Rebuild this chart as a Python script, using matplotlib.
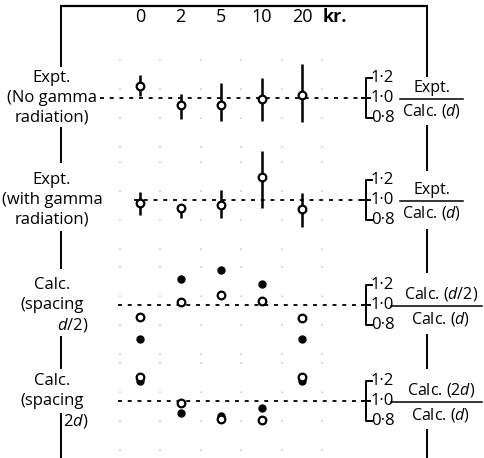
import numpy as np
import matplotlib
matplotlib.use('Agg')
import matplotlib.pyplot as plt
from matplotlib import transforms

plt.rcParams['font.family'] = ['Open Sans', 'DejaVu Sans']
plt.rcParams['mathtext.fontset'] = 'custom'
plt.rcParams['mathtext.rm'] = 'Open Sans'
plt.rcParams['mathtext.it'] = 'Open Sans:italic'

# dose categories (kr.), evenly spaced along x
doses = ['0', '2', '5', '10', '20']
xpos = np.arange(len(doses))

# Expt./Calc.(d), no gamma radiation
expt_nog = [1.12, 0.93, 0.93, 0.99, 1.03]
expt_nog_hi = [1.23, 1.04, 1.15, 1.20, 1.34]
expt_nog_lo = [1.02, 0.79, 0.77, 0.77, 0.76]

# Expt./Calc.(d), with gamma radiation
expt_g = [0.97, 0.92, 0.95, 1.23, 0.91]
expt_g_hi = [1.08, 0.95, 1.10, 1.49, 1.07]
expt_g_lo = [0.85, 0.82, 0.82, 0.92, 0.73]

# Calc.(d/2)/Calc.(d): open and filled points
half_open = [0.88, 1.03, 1.10, 1.04, 0.87]
half_fill = [0.66, 1.26, 1.35, 1.21, 0.66]

# Calc.(2d)/Calc.(d): open and filled points
dbl_open = [1.24, 0.98, 0.82, 0.81, 1.24]
dbl_fill = [1.20, 0.88, 0.85, 0.93, 1.20]

left_labels = [['Expt.', '(No gamma', 'radiation)'],
               ['Expt.', '(with gamma', 'radiation)'],
               ['Calc.', '(spacing', '$d$/2)'],
               ['Calc.', '(spacing', '2$d$)']]
right_num = ['Expt.', 'Expt.', 'Calc. ($d$/2)', 'Calc. (2$d$)']
right_den = ['Calc. ($d$)', 'Calc. ($d$)', 'Calc. ($d$)', 'Calc. ($d$)']
bracket_ticks = [0.8, 1.0, 1.2]
bracket_labels = ['0·8', '1·0', '1·2']

W, H = 484, 458
FS = 12
fig = plt.figure(figsize=(W / 100, H / 100), dpi=100, facecolor='w')

centers = [98, 200, 305, 401]   # pixel rows of the 1.0 level
panel_h = 100
x0_px, step_px = 140, 40.5
xlim = (-x0_px / step_px, 4 + (W - 302) / step_px)

axes = []
for c in centers:
    ax = fig.add_axes([0, (H - c - panel_h / 2) / H, 1, panel_h / H])
    ax.set_xlim(*xlim)
    ax.set_ylim(0.5, 1.5)
    ax.patch.set_alpha(0)
    for s in ax.spines.values():
        s.set_visible(False)
    ax.set_yticks([])
    ax.set_xticks([])
    # faint graph-paper dots between the dose columns
    ax.set_xticks(np.arange(-0.5, 5.5, 1), minor=True)
    ax.tick_params(which='both', length=0, labelbottom=False)
    ax.grid(which='minor', axis='x', color='#c4c4c4', lw=1.1,
            linestyle=(0, (1, 18)))
    axes.append(ax)

ax1, ax2, ax3, ax4 = axes

# dose labels across the top
ax1.xaxis.tick_top()
ax1.set_xticks(xpos)
ax1.set_xticklabels(doses, fontsize=FS + 1)
ax1.tick_params(axis='x', which='major', length=0, pad=16, labeltop=True)
top_tr = transforms.blended_transform_factory(ax1.transData, fig.transFigure)
ax1.text(4.8, 1 - 17 / H, 'kr.', transform=top_tr, fontsize=FS + 1,
         fontweight='bold', ha='center', va='center')

dash = (0, (2.2, 3.2))
line_start = [100, 134, 118, 118]

def errpoints(ax, y, hi, lo):
    y = np.array(y)
    ax.errorbar(xpos, y, yerr=[y - np.array(lo), np.array(hi) - y],
                fmt='o', ms=5.5, mfc='white', mec='black', mew=1.6,
                ecolor='black', elinewidth=1.8, capsize=0, zorder=3,
                clip_on=False)

errpoints(ax1, expt_nog, expt_nog_hi, expt_nog_lo)
errpoints(ax2, expt_g, expt_g_hi, expt_g_lo)

ax3.plot(xpos, half_fill, 'o', ms=5, color='black', zorder=3, clip_on=False)
ax3.plot(xpos, half_open, 'o', ms=5.5, mfc='white', mec='black', mew=1.6,
         zorder=4, clip_on=False)
ax4.plot(xpos, dbl_fill, 'o', ms=5, color='black', zorder=3, clip_on=False)
ax4.plot(xpos, dbl_open, 'o', ms=5.5, mfc='white', mec='black', mew=1.6,
         zorder=4, clip_on=False)

for i, ax in enumerate(axes):
    tr = transforms.blended_transform_factory(fig.transFigure, ax.transData)
    # dotted reference level at 1.0
    ax.plot([line_start[i] / W, 363 / W], [1.0, 1.0], transform=tr,
            color='black', lw=1.3, linestyle=dash, zorder=2, clip_on=False)
    # bracket scale 0.8 - 1.2
    bx = 366 / W
    ax.plot([bx + 6 / W, bx, bx, bx + 6 / W], [1.2, 1.2, 0.8, 0.8],
            transform=tr, color='black', lw=1.4, clip_on=False)
    ax.plot([bx - 4 / W, bx + 4 / W], [1.0, 1.0], transform=tr,
            color='black', lw=1.4, clip_on=False)
    for t, lab in zip(bracket_ticks, bracket_labels):
        ax.text(bx + 5 / W, t, lab, transform=tr, fontsize=FS,
                ha='left', va='center')
    # ratio label on the right
    fx0, fx1 = (400 if i < 2 else 391) / W, (463 if i < 2 else 482) / W
    fxc = (fx0 + fx1) / 2 if i < 2 else 441 / W
    ax.plot([fx0, fx1], [0.99, 0.99], transform=tr, color='black', lw=1.1,
            clip_on=False)
    ax.text(fxc, 1.02, right_num[i], transform=tr, fontsize=FS - 0.5,
            ha='center', va='bottom')
    ax.text(fxc, 0.955, right_den[i], transform=tr, fontsize=FS - 0.5,
            ha='center', va='top')
    # three-line description on the left
    for j, (lab, dy) in enumerate(zip(left_labels[i], [0.2, 0.0, -0.2])):
        xl = 52 / W
        ha = 'center'
        if i >= 2 and j == 2:
            xl, ha = 88 / W, 'right'
        ax.text(xl, 1.0 + dy, lab, transform=tr, fontsize=FS,
                ha=ha, va='center')

# connecting frame lines
def frame(x, y0, y1):
    fig.add_artist(plt.Line2D([x / W, x / W], [1 - y0 / H, 1 - y1 / H],
                              color='black', lw=1.4))

fig.add_artist(plt.Line2D([61 / W, 427 / W], [1 - 6 / H, 1 - 6 / H],
                          color='black', lw=1.6))
for y0, y1 in [(6, 66), (128, 162), (232, 268), (337, 368), (414, 458)]:
    frame(61, y0, y1)
for y0, y1 in [(6, 76), (126, 170), (230, 272), (335, 368), (430, 458)]:
    frame(427, y0, y1)

fig.savefig('out.png', dpi=100, facecolor='w')
